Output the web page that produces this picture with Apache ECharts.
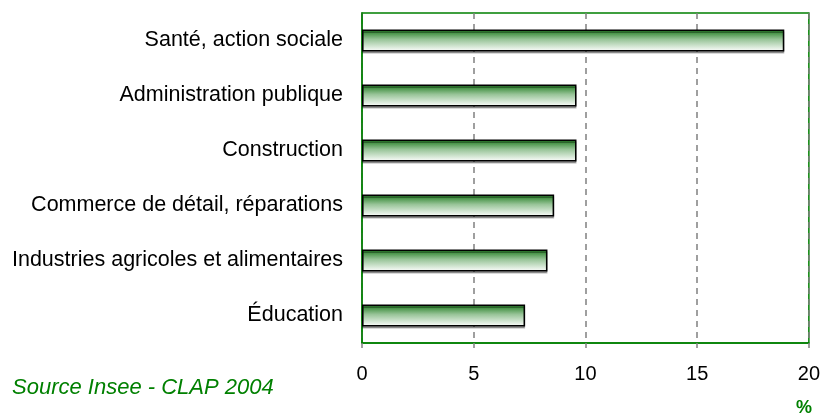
<!DOCTYPE html>
<html>
<head>
<meta charset="utf-8">
<script src="https://cdn.jsdelivr.net/npm/echarts@6/dist/echarts.min.js"></script>
<style>
  html, body { margin: 0; padding: 0; background: #fff; }
  #chart { width: 823px; height: 417px; }
</style>
</head>
<body>
<div id="chart"></div>
<script>
// categories listed bottom to top (category axis starts at the bottom)
const categories = [
  'Éducation',
  'Industries agricoles et alimentaires',
  'Commerce de détail, réparations',
  'Construction',
  'Administration publique',
  'Santé, action sociale'
]
const values = [7.3, 8.3, 8.6, 9.6, 9.6, 18.9]
const xTicks = [0, 5, 10, 15, 20]

const green = '#008000'
const font = '"Liberation Sans", Arial, sans-serif'

const chart = echarts.init(document.getElementById('chart'))

chart.setOption({
  animation: false,
  grid: {
    left: 362,
    right: 13,
    top: 13,
    bottom: 74,
    show: true,
    borderColor: green,
    borderWidth: 1.5,
    backgroundColor: 'transparent'
  },
  xAxis: {
    type: 'value',
    min: xTicks[0],
    max: xTicks[xTicks.length - 1],
    interval: 5,
    axisLine: { show: true, lineStyle: { color: green, width: 1.5 } },
    axisTick: { show: true, length: 5, lineStyle: { color: '#808080', width: 1.5 } },
    axisLabel: { color: '#000', fontFamily: font, fontSize: 20, margin: 21 },
    splitLine: {
      show: true,
      lineStyle: { color: '#808080', type: [6, 5], width: 1.5 }
    }
  },
  yAxis: {
    type: 'category',
    data: categories,
    axisLine: { show: true, lineStyle: { color: green, width: 1.5 } },
    axisTick: { show: false },
    axisLabel: { color: '#000', fontFamily: font, fontSize: 21.5, margin: 19 }
  },
  series: [{
    type: 'bar',
    data: values,
    barWidth: 22,
    itemStyle: {
      color: new echarts.graphic.LinearGradient(0, 0, 0, 1, [
        { offset: 0, color: '#1a781a' },
        { offset: 0.45, color: '#98c498' },
        { offset: 1, color: '#ffffff' }
      ]),
      borderColor: '#000',
      borderWidth: 1.5,
      shadowColor: 'rgba(0,0,0,0.3)',
      shadowOffsetY: 2,
      shadowBlur: 0
    }
  }],
  graphic: [
    {
      type: 'text',
      left: 12,
      top: 377,
      style: {
        text: 'Source Insee - CLAP 2004',
        fill: green,
        font: 'italic 22px ' + font
      }
    },
    {
      type: 'text',
      left: 796,
      top: 399,
      style: {
        text: '%',
        fill: green,
        font: 'bold 18px ' + font
      }
    }
  ]
})
</script>
</body>
</html>
